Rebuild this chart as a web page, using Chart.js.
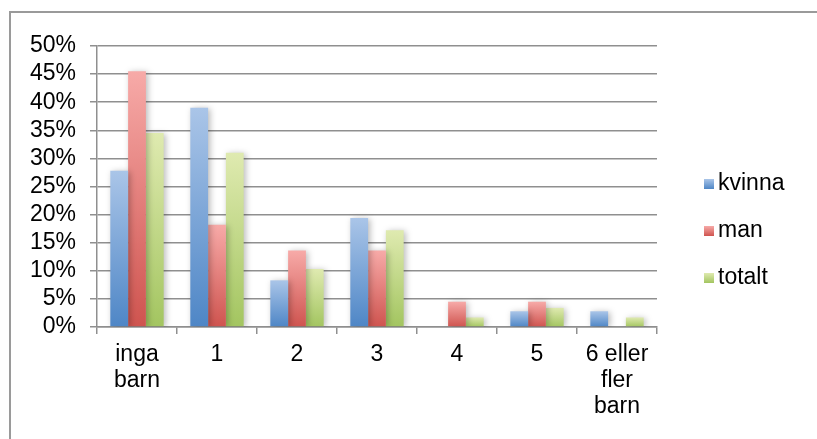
<!DOCTYPE html>
<html>
<head>
<meta charset="utf-8">
<script src="https://cdn.jsdelivr.net/npm/chart.js@4/dist/chart.umd.min.js"></script>
<style>
  html, body { margin: 0; padding: 0; background: #ffffff; }
  #wrap { width: 817px; height: 439px; position: relative; }
</style>
</head>
<body>
<div id="wrap"><canvas id="c"></canvas></div>
<script>
// Antal barn: andel per kön
const categories = [["inga", "barn"], "1", "2", "3", "4", "5", ["6 eller", "fler", "barn"]];
const kvinna = [27.8, 39.0, 8.3, 19.4, 0, 2.8, 2.8];
const man    = [45.5, 18.2, 13.6, 13.6, 4.5, 4.5, 0];
const totalt = [34.5, 31.0, 10.3, 17.2, 1.7, 3.4, 1.7];
const seriesNames = ["kvinna", "man", "totalt"];
const yTicks = [0, 5, 10, 15, 20, 25, 30, 35, 40, 45, 50];

const FONT = "'Liberation Sans', Arial, sans-serif";
const FONT_SIZE = 23;
const shades = [
  { top: "#aac5e8", bottom: "#4e86c6" },
  { top: "#f7aaa8", bottom: "#cf544f" },
  { top: "#dfeab0", bottom: "#a3c560" }
];

function barFill(idx) {
  return function (ctx) {
    const chart = ctx.chart;
    const s = shades[idx];
    if (ctx.type !== "data" || !chart.chartArea || !chart.scales.y) return s.bottom;
    const y = chart.scales.y;
    const v = ctx.raw || 0;
    const top = y.getPixelForValue(v);
    const base = y.getPixelForValue(0);
    if (base - top < 1) return s.bottom;
    const g = chart.ctx.createLinearGradient(0, top, 0, base);
    g.addColorStop(0, s.top);
    g.addColorStop(1, s.bottom);
    return g;
  };
}

// Outer frame of the chart
const framePlugin = {
  id: "frame",
  beforeDraw(chart) {
    const c = chart.ctx;
    c.save();
    c.strokeStyle = "#9a9a9a";
    c.lineWidth = 2;
    c.beginPath();
    c.moveTo(10, 439);
    c.lineTo(10, 12);
    c.lineTo(817, 12);
    c.stroke();
    c.restore();
  }
};

// Soft drop shadow behind the bars
const shadowPlugin = {
  id: "barShadow",
  beforeDatasetsDraw(chart) {
    const c = chart.ctx;
    c.save();
    c.shadowColor = "rgba(0,0,0,0.28)";
    c.shadowBlur = 6;
    c.shadowOffsetX = 2;
    c.shadowOffsetY = 1;
  },
  afterDatasetsDraw(chart) {
    chart.ctx.restore();
  }
};

// Legend on the right
const legendPlugin = {
  id: "sideLegend",
  afterDraw(chart) {
    const c = chart.ctx;
    const x0 = 704, ys = [184, 231, 278];
    c.save();
    chart.data.datasets.forEach((ds, i) => {
      const y = ys[i];
      const g = c.createLinearGradient(0, y - 5, 0, y + 5);
      g.addColorStop(0, shades[i].top);
      g.addColorStop(1, shades[i].bottom);
      c.fillStyle = g;
      c.fillRect(x0, y - 5, 10, 10);
      c.fillStyle = "#000";
      c.font = FONT_SIZE + "px " + FONT;
      c.textBaseline = "middle";
      c.textAlign = "left";
      c.fillText(ds.label, x0 + 14, y);
    });
    c.restore();
  }
};

const datasets = [kvinna, man, totalt].map((vals, i) => ({
  label: seriesNames[i],
  data: vals,
  backgroundColor: barFill(i),
  borderWidth: 0,
  categoryPercentage: 0.667,
  barPercentage: 1.0
}));

new Chart(document.getElementById("c"), {
  type: "bar",
  data: { labels: categories, datasets },
  plugins: [framePlugin, shadowPlugin, legendPlugin],
  options: {
    responsive: true,
    maintainAspectRatio: false,
    animation: false,
    layout: { padding: { left: 0, right: 160, top: 46, bottom: 0 } },
    plugins: { legend: { display: false }, tooltip: { enabled: false } },
    scales: {
      x: {
        grid: { drawOnChartArea: false, drawTicks: true, tickLength: 7, color: "#8f8f8f", lineWidth: 1.5, offset: true },
        border: { color: "#8f8f8f", width: 1.5 },
        ticks: { color: "#000", font: { family: FONT, size: FONT_SIZE, lineHeight: 1.13 }, padding: 8, maxRotation: 0, autoSkip: false },
        afterFit(scale) { scale.height = 112; }
      },
      y: {
        min: 0, max: 50,
        afterBuildTicks(scale) { scale.ticks = yTicks.map(v => ({ value: v })); },
        grid: { color: "#8f8f8f", lineWidth: 1.5, tickLength: 7 },
        border: { color: "#8f8f8f", width: 1.5 },
        ticks: { color: "#000", font: { family: FONT, size: FONT_SIZE }, padding: 14, autoSkip: false, callback: v => v + "%" },
        afterFit(scale) { scale.width = 97; }
      }
    }
  }
});
</script>
</body>
</html>
